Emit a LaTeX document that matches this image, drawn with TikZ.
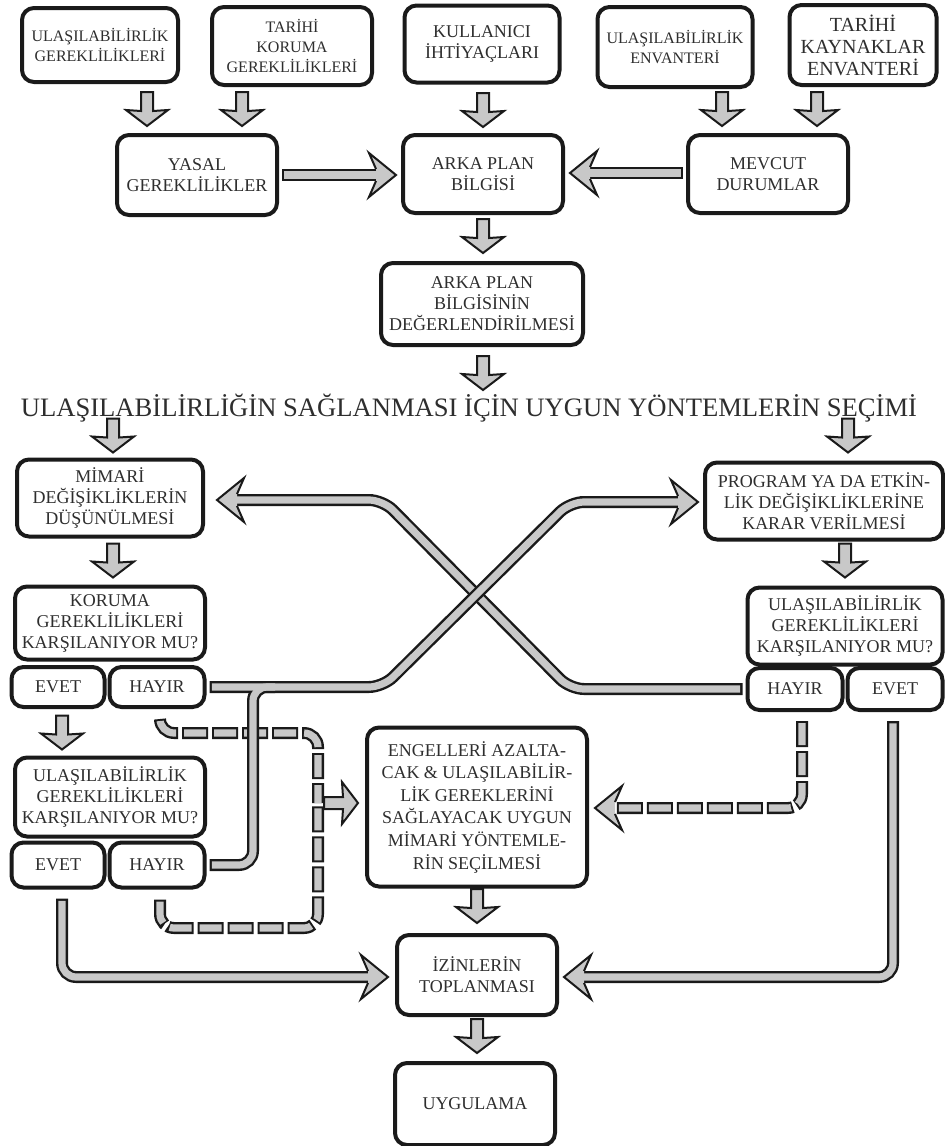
\documentclass[tikz,border=0pt]{standalone}
\usepackage{fontspec}
\setmainfont{Liberation Serif}
\usetikzlibrary{calc}
\definecolor{ink}{HTML}{1A1A1A}
\definecolor{txt}{HTML}{2E2E2E}
\definecolor{pipe}{HTML}{C8C8C8}
\tikzset{
  box/.style={draw=ink, line width=2pt, rounded corners=6pt, fill=white, inner sep=0pt, align=center, text=txt, font=\fontsize{9}{10.5}\selectfont},
  smalltxt/.style={font=\fontsize{8}{10}\selectfont},
  fat/.pic={\filldraw[fill=pipe, draw=ink, line width=1pt] (0,0) -- (-16,21) -- (-15,6) -- (-34,6) -- (-34,-6) -- (-15,-6) -- (-16,-21) -- cycle;},
  head/.pic={\fill[pipe] (-20,6) -- (-27,22) -- (0,0) -- (-27,-22) -- (-20,-6) -- cycle;
    \draw[ink, line width=1pt] (-20,6) -- (-27,22) -- (0,0) -- (-27,-22) -- (-20,-6);},
}

\begin{document}
\begin{tikzpicture}[x=0.5pt, y=-0.5pt,
  pipeo/.style={draw=ink, line width=6pt, rounded corners=7pt},
  pipei/.style={draw=pipe, line width=3.6pt, rounded corners=7pt, shorten <=1.2pt},
  dpipeo/.style={pipeo, dash pattern=on 13pt off 2pt},
  dpipei/.style={pipei, shorten <=0pt, dash pattern=on 11pt off 4pt, dash phase=14pt}]
\path[use as bounding box, fill=white] (0,0) rectangle (945,1146);
% sources
\node[box, smalltxt, minimum width=78pt, minimum height=37pt] (ulgerek) at (100,45) {ULAŞILABİLİRLİK\\GEREKLİLİKLERİ};
\node[box, smalltxt, minimum width=80pt, minimum height=39pt] (tarkoru) at (292,46) {TARİHİ\\KORUMA\\GEREKLİLİKLERİ};
\node[box, minimum width=77.5pt, minimum height=38.5pt] (kullanici) at (482,44) {KULLANICI\\İHTİYAÇLARI};
\node[box, smalltxt, minimum width=77.5pt, minimum height=40pt] (ulenv) at (675,47) {ULAŞILABİLİRLİK\\ENVANTERİ};
\node[box, font=\fontsize{10}{11}\selectfont, minimum width=73.5pt, minimum height=40pt] (tarkay) at (863,45) {TARİHİ\\KAYNAKLAR\\ENVANTERİ};
\node[box, minimum width=80pt, minimum height=40pt] (yasal) at (197,175) {YASAL\\GEREKLİLİKLER};
\node[box, minimum width=80pt, minimum height=39pt] (arka) at (483,174) {ARKA PLAN\\BİLGİSİ};
\node[box, minimum width=80pt, minimum height=39pt] (mevcut) at (768,174) {MEVCUT\\DURUMLAR};
\node[box, minimum width=101pt, minimum height=41pt] (deger) at (482,304) {ARKA PLAN\\BİLGİSİNİN\\DEĞERLENDİRİLMESİ};
\node[font=\fontsize{13.3}{16}\selectfont, text=txt] (secim) at (469,408) {ULAŞILABİLİRLİĞİN SAĞLANMASI İÇİN UYGUN YÖNTEMLERİN SEÇİMİ};
% left column
\node[box, minimum width=93pt, minimum height=38.5pt] (mimari) at (110,498) {MİMARİ\\DEĞİŞİKLİKLERİN\\DÜŞÜNÜLMESİ};
\node[box, minimum width=95pt, minimum height=36.5pt] (koruma) at (110,623) {KORUMA\\GEREKLİLİKLERİ\\KARŞILANIYOR MU?};
\node[box, minimum width=46.5pt, minimum height=20pt] (evet1) at (58,687) {EVET};
\node[box, minimum width=47.5pt, minimum height=20pt] (hayir1) at (157,687) {HAYIR};
\node[box, minimum width=95pt, minimum height=39.5pt] (ulkars1) at (110,797) {ULAŞILABİLİRLİK\\GEREKLİLİKLERİ\\KARŞILANIYOR MU?};
\node[box, minimum width=46.5pt, minimum height=22.5pt] (evet2) at (58,865) {EVET};
\node[box, minimum width=47.5pt, minimum height=22.5pt] (hayir2) at (157,865) {HAYIR};
% right column
\node[box, minimum width=119pt, minimum height=38.5pt] (program) at (824,501) {PROGRAM YA DA ETKİN-\\LİK DEĞİŞİKLİKLERİNE\\KARAR VERİLMESİ};
\node[box, minimum width=97.5pt, minimum height=38.5pt] (ulkars2) at (845,626) {ULAŞILABİLİRLİK\\GEREKLİLİKLERİ\\KARŞILANIYOR MU?};
\node[box, minimum width=47.5pt, minimum height=21pt] (hayir3) at (795,689) {HAYIR};
\node[box, minimum width=47.5pt, minimum height=21pt] (evet3) at (895,689) {EVET};
% bottom
\node[box, font=\fontsize{9}{11.3}\selectfont, minimum width=110pt, minimum height=79.5pt] (engel) at (477,807) {ENGELLERİ AZALTA-\\CAK \& ULAŞILABİLİR-\\LİK GEREKLERİNİ\\SAĞLAYACAK UYGUN\\MİMARİ YÖNTEMLE-\\RİN SEÇİLMESİ};
\node[box, minimum width=80pt, minimum height=40pt] (izin) at (477,975) {İZİNLERİN\\TOPLANMASI};
\node[box, minimum width=80pt, minimum height=41pt] (uygula) at (475,1104) {UYGULAMA};
% pipes
\foreach \s in {dpipeo,dpipei}{
  \draw[\s] ($(hayir1.south)+(3,10)$) -- (160,733) -- (318,733) -- (318,803);
  \draw[\s] ($(hayir2.south)+(3,10)$) -- (160,928) -- (318,928) -- (318,803);
  \draw[\s] ($(hayir3.south)+(7,9)$) -- (802,808) -- ($(engel.east)+(25,1)$);
}
\foreach \s in {pipeo,pipei}{
  \draw[\s] ($(yasal.east)+(3,0)$) -- ($(arka.west)+(-24,1)$);
  \draw[\s] ($(mevcut.west)+(-3,-1)$) -- ($(arka.east)+(24,-1)$);
  \draw[\s] ($(hayir3.west)+(-3,0)$) -- (570,689) -- (383,500) -- ($(mimari.east)+(31,2)$);
  \draw[\s] ($(evet2.south)+(4,9)$) -- (62,977) -- ($(izin.west)+(-26,2)$);
  \draw[\s] ($(evet3.south)+(-2,9)$) -- (893,977) -- ($(izin.east)+(24,2)$);
}
\foreach \s in {pipeo,pipei}{
  \draw[\s] ($(hayir1.east)+(3,0)$) -- (383,687) -- (570,502) -- ($(program.west)+(-24,1)$);
  \draw[\s] ($(hayir2.east)+(3,0)$) -- (253,865) -- (253,687) -- (275,687);
}
\pic at ($(arka.west)+(-5,1)$) {head};
\pic[rotate=180] at ($(arka.east)+(5,-1)$) {head};
\pic[rotate=180] at ($(mimari.east)+(12,2)$) {head};
\pic at ($(program.west)+(-5,1)$) {head};
\pic[rotate=180] at ($(engel.east)+(6,1)$) {head};
\pic at ($(izin.west)+(-7,2)$) {head};
\pic[rotate=180] at ($(izin.east)+(5,2)$) {head};
% short arrows
\pic[rotate=-90] at ($(yasal.north)+(-50,-7)$) {fat};
\pic[rotate=-90] at ($(yasal.north)+(45,-7)$) {fat};
\pic[rotate=-90] at ($(arka.north)+(0,-6)$) {fat};
\pic[rotate=-90] at ($(mevcut.north)+(-46,-7)$) {fat};
\pic[rotate=-90] at ($(mevcut.north)+(49,-7)$) {fat};
\pic[rotate=-90] at ($(deger.north)+(1,-8)$) {fat};
\pic[rotate=-90] at ($(deger.south)+(1,43)$) {fat};
\pic[rotate=-90] at ($(mimari.north)+(3,-5)$) {fat};
\pic[rotate=-90] at ($(program.north)+(24,-8)$) {fat};
\pic[rotate=-90] at ($(koruma.north)+(3,-7)$) {fat};
\pic[rotate=-90] at ($(ulkars2.north)+(0,-8)$) {fat};
\pic[rotate=-90] at ($(ulkars1.north)+(-48,-6)$) {fat};
\pic[rotate=-90] at ($(izin.north)+(0,-10)$) {fat};
\pic[rotate=-90] at ($(uygula.north)+(2,-8)$) {fat};
\pic at ($(engel.west)+(-7,-4)$) {fat};
\end{tikzpicture}
\end{document}
